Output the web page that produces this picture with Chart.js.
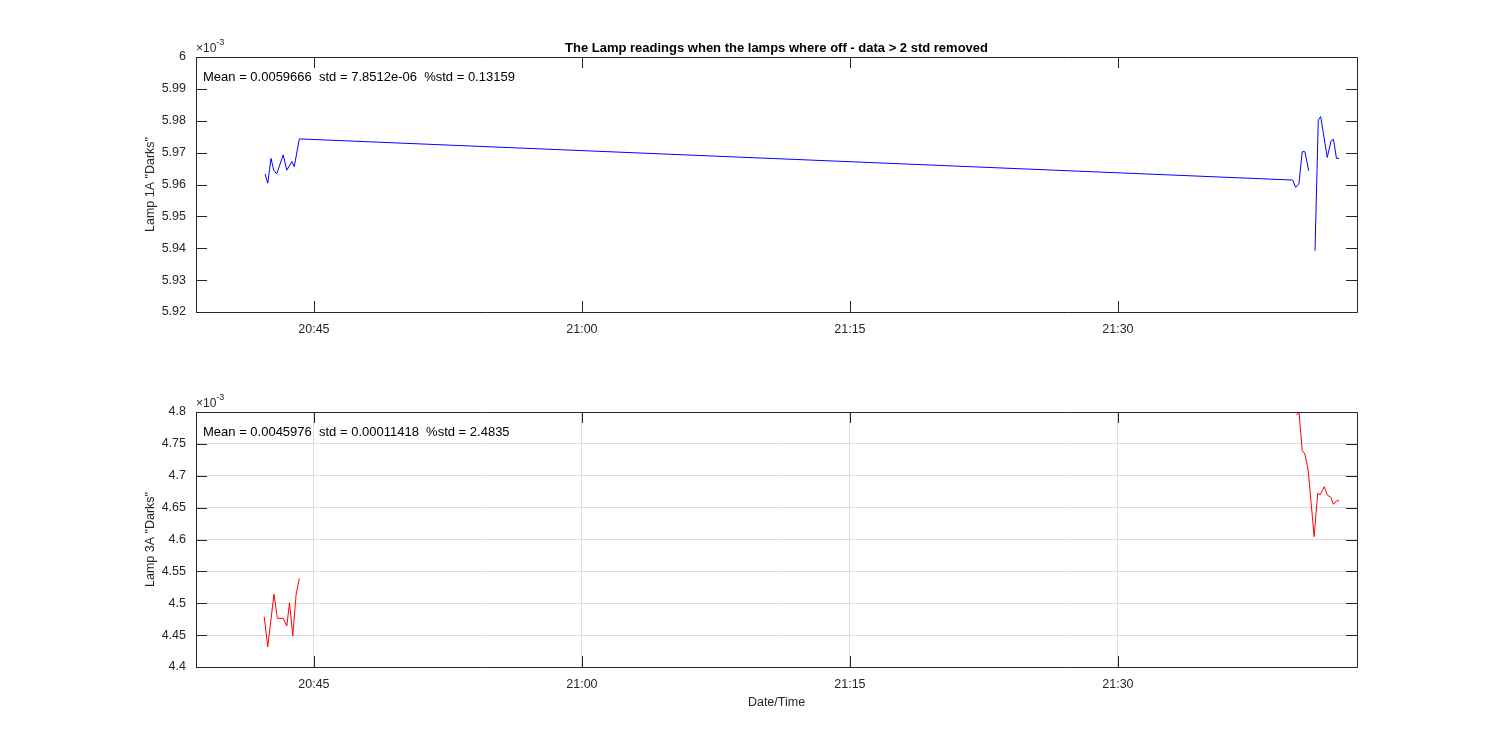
<!DOCTYPE html>
<html>
<head>
<meta charset="utf-8">
<script src="https://cdn.jsdelivr.net/npm/chart.js@4"></script>
<style>
  body { margin: 0; background: #fff; }
  canvas { display: block; }
</style>
</head>
<body>
<canvas id="lamp1Chart" width="1500" height="375"></canvas>
<canvas id="lamp3Chart" width="1500" height="375"></canvas>
<script>
// readings are in units of 1e-3 (axis shows x10^-3)
const lamp1Times = ['20:42:16', '20:42:25', '20:42:36', '20:42:45', '20:42:55', '20:43:17', '20:43:29', '20:43:46', '20:43:54', '20:44:11',
    '21:39:47', '21:39:57', '21:40:08', '21:40:19', '21:40:28', '21:40:41', '21:40:52', '21:41:02', '21:41:13', '21:41:21',
    '21:41:43', '21:41:56', '21:42:04', '21:42:14', '21:42:23'];
const lamp1Values = [5.9633, 5.9604, 5.9682, 5.9645, 5.9633, 5.9693, 5.9645, 5.9672, 5.9656, 5.9743,
    5.9614, 5.9591, 5.9602, 5.9703, 5.9703, 5.9643, null, 5.9392, 5.9802, 5.9813,
    5.9685, 5.9737, 5.9742, 5.9682, 5.9682];

const lamp3Times = ['20:42:13', '20:42:25', '20:42:46', '20:42:57', '20:43:17', '20:43:29', '20:43:38', '20:43:49', '20:44:00', '20:44:11',
    '21:00:00', '21:40:00', '21:40:08', '21:40:19', '21:40:28', '21:40:39', '21:40:49', '21:40:59', '21:41:11', '21:41:19',
    '21:41:33', '21:41:43', '21:41:55', '21:42:04', '21:42:15', '21:42:23'];
const lamp3Values = [4.4789, 4.4318, 4.5145, 4.4764, 4.4764, 4.4643, 4.5009, 4.4486, 4.5129, 4.5391,
    null, 4.7953, 4.8005, 4.7393, 4.7341, 4.7090, 4.6568, 4.6044, 4.6725, 4.6698,
    4.6828, 4.6698, 4.6662, 4.6552, 4.6609, 4.6609];

const xTickLabels = ['20:45', '21:00', '21:15', '21:30'];
const xStart = '20:38:24';
const xEnd = '21:43:23';

const tituloGrafico = 'The Lamp readings when the lamps where off - data > 2 std removed';
const lamp1Stats = 'Mean = 0.0059666  std = 7.8512e-06  %std = 0.13159';
const lamp3Stats = 'Mean = 0.0045976  std = 0.00011418  %std = 2.4835';

const FONT = '"Liberation Sans", Arial, sans-serif';

// "hh:mm[:ss]" -> minutes since midnight
function aMinutos(t) {
    const p = t.split(':').map(Number);
    return p[0] * 60 + p[1] + (p[2] || 0) / 60;
}

const xTickValues = xTickLabels.map(aMinutos);

function puntos(tiempos, valores) {
    return tiempos.map((t, i) => ({ x: aMinutos(t), y: valores[i] }));
}

// MATLAB style box, inward ticks and texts
const matlabAxes = {
    id: 'matlabAxes',
    afterDraw(chart, args, opts) {
        const ctx = chart.ctx;
        const a = chart.chartArea;
        const x = chart.scales.x, y = chart.scales.y;
        ctx.save();
        ctx.strokeStyle = '#262626';
        ctx.lineWidth = 1;
        ctx.beginPath();
        ctx.rect(Math.round(a.left) + 0.5, Math.round(a.top) + 0.5, Math.round(a.right - a.left), Math.round(a.bottom - a.top));
        y.ticks.forEach(t => {
            const py = Math.round(y.getPixelForValue(t.value)) + 0.5;
            ctx.moveTo(a.left, py); ctx.lineTo(a.left + 11, py);
            ctx.moveTo(a.right, py); ctx.lineTo(a.right - 11, py);
        });
        x.ticks.forEach(t => {
            const px = Math.round(x.getPixelForValue(t.value)) + 0.5;
            ctx.moveTo(px, a.bottom); ctx.lineTo(px, a.bottom - 11);
            ctx.moveTo(px, a.top); ctx.lineTo(px, a.top + 11);
        });
        ctx.stroke();

        // x10^-3
        ctx.fillStyle = '#262626';
        ctx.textAlign = 'left';
        ctx.textBaseline = 'middle';
        ctx.font = '12px ' + FONT;
        ctx.fillText('×10', a.left, a.top - 8);
        const w = ctx.measureText('×10').width;
        ctx.font = '9px ' + FONT;
        ctx.fillText('-3', a.left + w, a.top - 14);

        // stats text
        ctx.fillStyle = '#000';
        ctx.font = '13px ' + FONT;
        ctx.fillText(opts.stats, a.left + 7, a.top + 20);

        // y label
        ctx.save();
        ctx.fillStyle = '#262626';
        ctx.font = '12.5px ' + FONT;
        ctx.translate(151, (a.top + a.bottom) / 2);
        ctx.rotate(-Math.PI / 2);
        ctx.textAlign = 'center';
        ctx.fillText(opts.yLabel, 0, 0);
        ctx.restore();

        const cx = (a.left + a.right) / 2;
        if (opts.title) {
            ctx.fillStyle = '#000';
            ctx.textAlign = 'center';
            ctx.font = 'bold 13px ' + FONT;
            ctx.fillText(opts.title, cx, a.top - 9);
        }
        if (opts.xLabel) {
            ctx.fillStyle = '#262626';
            ctx.textAlign = 'center';
            ctx.font = '12.5px ' + FONT;
            ctx.fillText(opts.xLabel, cx, a.bottom + 36);
        }
        ctx.restore();
    }
};

function crearGrafico(id, datos, color, cfg) {
    const ctx = document.getElementById(id).getContext('2d');
    return new Chart(ctx, {
        type: 'line',
        data: {
            datasets: [{
                data: datos,
                borderColor: color,
                borderWidth: 1,
                pointRadius: 0,
                tension: 0,
                spanGaps: false
            }]
        },
        options: {
            responsive: false,
            animation: false,
            devicePixelRatio: 1,
            layout: { padding: { left: 136, right: 143, top: cfg.top, bottom: cfg.bottom } },
            plugins: {
                legend: { display: false },
                tooltip: { enabled: false },
                matlabAxes: { stats: cfg.stats, yLabel: cfg.yLabel, title: cfg.title, xLabel: cfg.xLabel }
            },
            scales: {
                x: {
                    type: 'linear',
                    min: aMinutos(xStart),
                    max: aMinutos(xEnd),
                    afterBuildTicks: s => { s.ticks = xTickValues.map(v => ({ value: v })); },
                    afterFit: s => { s.height = 40; },
                    grid: { display: cfg.grid, color: '#dcdcdc', drawTicks: false },
                    border: { display: false },
                    ticks: {
                        padding: 10,
                        maxRotation: 0,
                        autoSkip: false,
                        color: '#262626',
                        font: { family: FONT, size: 12.5 },
                        callback: (v, i) => xTickLabels[i]
                    }
                },
                y: {
                    min: cfg.yMin,
                    max: cfg.yMax,
                    afterFit: s => { s.width = 60; },
                    grid: { display: cfg.grid, color: '#dcdcdc', drawTicks: false },
                    border: { display: false },
                    ticks: {
                        stepSize: cfg.yStep,
                        padding: 10,
                        color: '#262626',
                        font: { family: FONT, size: 12.5 },
                        callback: v => String(Number(v.toFixed(2)))
                    }
                }
            }
        },
        plugins: [matlabAxes]
    });
}

window.onload = function() {
    crearGrafico('lamp1Chart', puntos(lamp1Times, lamp1Values), '#0000ff', {
        top: 57, bottom: 23, yMin: 5.92, yMax: 6.0, yStep: 0.01, grid: false,
        stats: lamp1Stats, yLabel: 'Lamp 1A "Darks"', title: tituloGrafico
    });
    crearGrafico('lamp3Chart', puntos(lamp3Times, lamp3Values), '#ff0000', {
        top: 37, bottom: 43, yMin: 4.4, yMax: 4.8, yStep: 0.05, grid: true,
        stats: lamp3Stats, yLabel: 'Lamp 3A "Darks"', xLabel: 'Date/Time'
    });
};
</script>
</body>
</html>
